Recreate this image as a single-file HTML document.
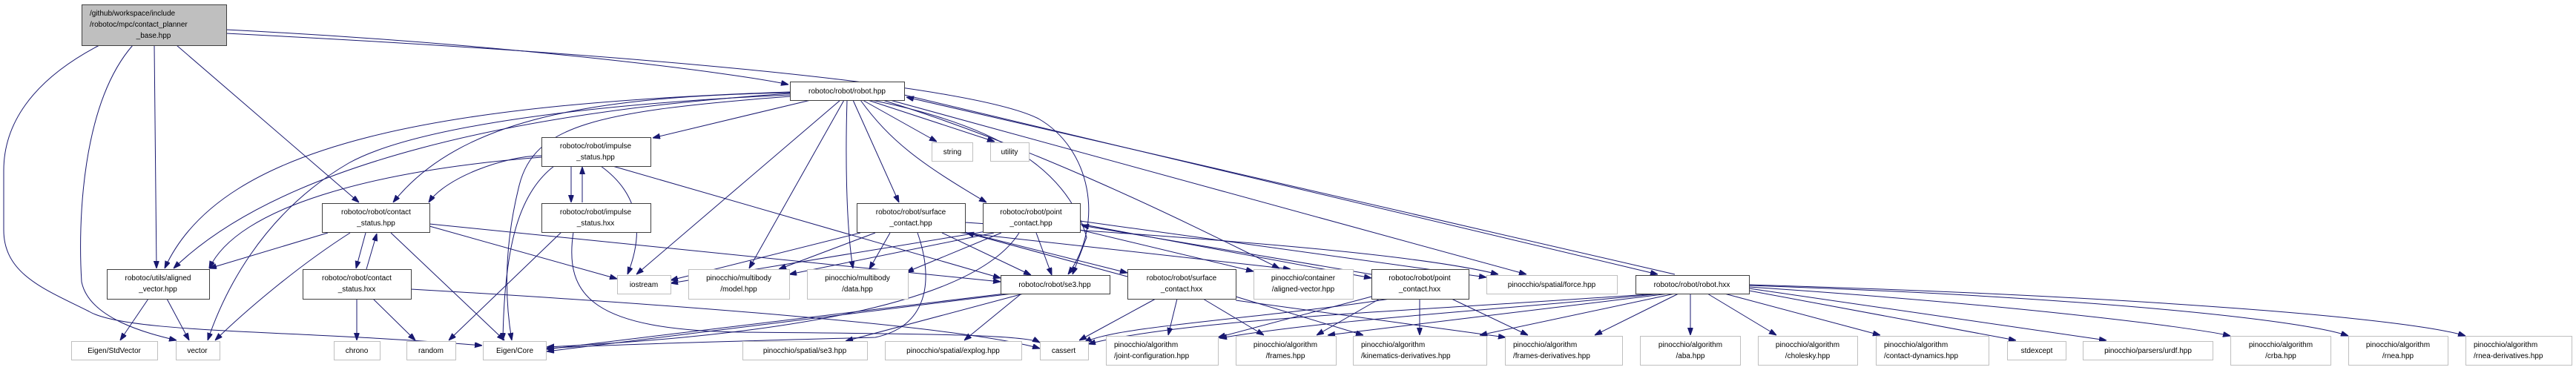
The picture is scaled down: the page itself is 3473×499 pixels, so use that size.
<!DOCTYPE html>
<html><head><meta charset="utf-8">
<style>
html,body{margin:0;padding:0;background:#fff;}
svg{display:block;}
text{font-family:"Liberation Sans",sans-serif;font-size:10px;fill:#000;}
.n{fill:#fff;stroke:#404040;stroke-width:1;}
.l{fill:#fff;stroke:#bfbfbf;stroke-width:1;}
.e{fill:none;stroke:#191970;stroke-width:1;marker-end:url(#a);}
</style></head><body>
<svg width="3473" height="499" viewBox="0 0 3473 499" xmlns="http://www.w3.org/2000/svg">
<defs><marker id="a" markerUnits="userSpaceOnUse" markerWidth="10" markerHeight="8" refX="10" refY="3.5" orient="auto"><path d="M0,0 L10,3.5 L0,7 z" fill="#191970" stroke="#191970"/></marker></defs>
<g>
<!-- root edges -->
<path class="e" d="M305 40 C700 60 1000 100 1063 114"/>
<path class="e" d="M305 45 C800 70 1300 110 1400 160 C1470 200 1490 300 1440 370"/>
<path class="e" d="M238 61 L484 273"/>
<path class="e" d="M208 61 L211 362"/>
<path class="e" d="M179 61 C110 140 105 300 110 380 C120 430 200 450 238 459"/>
<path class="e" d="M134 61 C40 110 5 170 5 230 L5 310 C5 370 60 390 120 420 C170 450 400 445 650 466"/>
<!-- robot.hpp -->
<path class="e" d="M1093 135 L880 186"/>
<path class="e" d="M1065 125 C800 130 620 160 530 273"/>
<path class="e" d="M1065 124 C600 140 300 190 222 362"/>
<path class="e" d="M1065 126 C700 150 380 220 234 362"/>
<path class="e" d="M1065 128 C800 140 560 170 470 220 C350 290 300 400 280 459"/>
<path class="e" d="M1065 130 C800 150 720 170 700 250 C680 330 680 400 690 459"/>
<path class="e" d="M1133 135 L858 370"/>
<path class="e" d="M1138 135 L1010 362"/>
<path class="e" d="M1142 135 C1140 200 1140 300 1150 362"/>
<path class="e" d="M1150 135 L1212 273"/>
<path class="e" d="M1160 135 C1200 190 1240 220 1330 273"/>
<path class="e" d="M1163 135 L1263 191"/>
<path class="e" d="M1170 135 L1341 191"/>
<path class="e" d="M1175 135 C1350 170 1440 230 1465 320 L1446 370"/>
<path class="e" d="M1190 135 C1400 200 1600 300 1725 362"/>
<path class="e" d="M1200 135 L2058 370"/>
<path class="e" d="M1219 128 L2235 370"/>
<path class="e" d="M2258 370 L1222 131"/>
<!-- impulse_status.hpp -->
<path class="e" d="M730 210 C680 210 600 240 578 273"/>
<path class="e" d="M730 212 C500 230 320 280 282 362"/>
<path class="e" d="M770 224 L770 273"/>
<path class="e" d="M785 273 L785 225"/>
<path class="e" d="M747 224 C700 260 680 330 678 459"/>
<path class="e" d="M810 224 C860 260 870 310 846 370"/>
<path class="e" d="M826 224 L1349 375"/>
<!-- impulse_status.hxx -->
<path class="e" d="M757 313 L605 459"/>
<path class="e" d="M773 313 C760 400 800 445 1000 448 C1200 450 1380 450 1402 462"/>
<!-- contact_status.hpp -->
<path class="e" d="M442 314 L282 362"/>
<path class="e" d="M472 314 C400 360 330 420 290 459"/>
<path class="e" d="M493 314 L480 362"/>
<path class="e" d="M494 363 L508 315"/>
<path class="e" d="M527 314 L680 459"/>
<path class="e" d="M579 305 L832 376"/>
<path class="e" d="M579 302 L1349 380"/>
<!-- contact_status.hxx -->
<path class="e" d="M481 403 L481 459"/>
<path class="e" d="M503 403 L560 459"/>
<path class="e" d="M554 390 C900 410 1300 440 1402 470"/>
<!-- aligned_vector -->
<path class="e" d="M200 403 L162 459"/>
<path class="e" d="M225 403 L255 459"/>
<!-- surface_contact.hpp -->
<path class="e" d="M1160 314 L904 378"/>
<path class="e" d="M1180 314 L1050 363"/>
<path class="e" d="M1200 314 L1172 363"/>
<path class="e" d="M1270 314 L1390 371"/>
<path class="e" d="M1280 312 L1740 363"/>
<path class="e" d="M1301 300 C1600 320 1900 340 2020 370"/>
<path class="e" d="M1301 313 L1520 368"/>
<path class="e" d="M1520 373 L1303 314"/>
<path class="e" d="M1237 314 C1260 380 1250 440 1180 455 C1000 460 800 465 737 470"/>
<!-- point_contact.hpp -->
<path class="e" d="M1330 312 L904 382"/>
<path class="e" d="M1340 314 L1064 370"/>
<path class="e" d="M1350 314 L1222 367"/>
<path class="e" d="M1397 314 L1418 371"/>
<path class="e" d="M1374 314 C1320 400 1100 450 737 468"/>
<path class="e" d="M1456 310 L1690 366"/>
<path class="e" d="M1456 298 L2004 374"/>
<path class="e" d="M1456 302 L1849 375"/>
<path class="e" d="M1849 370 L1458 304"/>
<!-- se3.hpp -->
<path class="e" d="M1365 396 L737 474"/>
<path class="e" d="M1355 396 L737 471"/>
<path class="e" d="M1380 396 L1140 460"/>
<path class="e" d="M1377 396 L1300 459"/>
<!-- surface_contact.hxx -->
<path class="e" d="M1558 403 L1455 459"/>
<path class="e" d="M1587 403 L1575 452"/>
<path class="e" d="M1622 403 L1704 452"/>
<path class="e" d="M1666 400 L1838 452"/>
<path class="e" d="M1666 405 L2030 455"/>
<!-- point_contact.hxx -->
<path class="e" d="M1874 403 C1700 430 1500 440 1462 462"/>
<path class="e" d="M1849 400 L1642 455"/>
<path class="e" d="M1860 403 L1775 452"/>
<path class="e" d="M1914 403 L1914 452"/>
<path class="e" d="M1957 403 L2060 452"/>
<!-- robot.hxx -->
<path class="e" d="M2235 396 C1900 420 1600 430 1467 464"/>
<path class="e" d="M2240 396 C2000 420 1800 430 1644 456"/>
<path class="e" d="M2250 396 L1790 452"/>
<path class="e" d="M2258 396 L1995 452"/>
<path class="e" d="M2263 396 L2150 452"/>
<path class="e" d="M2279 396 L2279 452"/>
<path class="e" d="M2302 396 L2395 452"/>
<path class="e" d="M2325 396 L2535 452"/>
<path class="e" d="M2358 392 L2718 459"/>
<path class="e" d="M2358 389 L2840 459"/>
<path class="e" d="M2358 387 C2700 410 2950 440 3007 453"/>
<path class="e" d="M2358 385 C2800 400 3100 430 3166 453"/>
<path class="e" d="M2358 384 C2900 400 3250 430 3324 453"/>
</g>
<!-- nodes -->
<rect x="110.5" y="6.5" width="195" height="55" fill="#bfbfbf" stroke="#404040"/>
<text x="121" y="21">/github/workspace/include</text>
<text x="121" y="36">/robotoc/mpc/contact_planner</text>
<text x="207" y="51" text-anchor="middle">_base.hpp</text>

<rect class="n" x="1065.5" y="110.5" width="154" height="25"/><text x="1142" y="126" text-anchor="middle">robotoc/robot/robot.hpp</text>

<rect class="n" x="730.5" y="185.5" width="147" height="39"/><text x="803" y="200" text-anchor="middle">robotoc/robot/impulse</text><text x="803" y="215" text-anchor="middle">_status.hpp</text>
<rect class="n" x="730.5" y="274.5" width="147" height="39"/><text x="803" y="289" text-anchor="middle">robotoc/robot/impulse</text><text x="803" y="304" text-anchor="middle">_status.hxx</text>
<rect class="n" x="434.5" y="274.5" width="145" height="39"/><text x="507" y="289" text-anchor="middle">robotoc/robot/contact</text><text x="507" y="304" text-anchor="middle">_status.hpp</text>
<rect class="n" x="408.5" y="363.5" width="146" height="40"/><text x="481" y="378" text-anchor="middle">robotoc/robot/contact</text><text x="481" y="393" text-anchor="middle">_status.hxx</text>
<rect class="n" x="144.5" y="363.5" width="138" height="40"/><text x="213" y="378" text-anchor="middle">robotoc/utils/aligned</text><text x="213" y="393" text-anchor="middle">_vector.hpp</text>
<rect class="n" x="1155.5" y="274.5" width="146" height="39"/><text x="1228" y="289" text-anchor="middle">robotoc/robot/surface</text><text x="1228" y="304" text-anchor="middle">_contact.hpp</text>
<rect class="n" x="1325.5" y="274.5" width="131" height="39"/><text x="1390" y="289" text-anchor="middle">robotoc/robot/point</text><text x="1390" y="304" text-anchor="middle">_contact.hpp</text>
<rect class="n" x="1349.5" y="371.5" width="147" height="25"/><text x="1422" y="387" text-anchor="middle">robotoc/robot/se3.hpp</text>
<rect class="n" x="1520.5" y="363.5" width="146" height="40"/><text x="1593" y="378" text-anchor="middle">robotoc/robot/surface</text><text x="1593" y="393" text-anchor="middle">_contact.hxx</text>
<rect class="n" x="1849.5" y="363.5" width="131" height="40"/><text x="1914" y="378" text-anchor="middle">robotoc/robot/point</text><text x="1914" y="393" text-anchor="middle">_contact.hxx</text>
<rect class="n" x="2205.5" y="371.5" width="153" height="25"/><text x="2281" y="387" text-anchor="middle">robotoc/robot/robot.hxx</text>

<rect class="l" x="96.5" y="460.5" width="116" height="25"/><text x="154" y="476" text-anchor="middle">Eigen/StdVector</text>
<rect class="l" x="237.5" y="460.5" width="59" height="25"/><text x="266" y="476" text-anchor="middle">vector</text>
<rect class="l" x="450.5" y="460.5" width="62" height="25"/><text x="481" y="476" text-anchor="middle">chrono</text>
<rect class="l" x="548.5" y="460.5" width="66" height="25"/><text x="581" y="476" text-anchor="middle">random</text>
<rect class="l" x="651.5" y="460.5" width="85" height="25"/><text x="694" y="476" text-anchor="middle">Eigen/Core</text>
<rect class="l" x="832.5" y="371.5" width="72" height="25"/><text x="868" y="387" text-anchor="middle">iostream</text>
<rect class="l" x="928.5" y="363.5" width="136" height="40"/><text x="996" y="378" text-anchor="middle">pinocchio/multibody</text><text x="996" y="393" text-anchor="middle">/model.hpp</text>
<rect class="l" x="1088.5" y="363.5" width="136" height="40"/><text x="1156" y="378" text-anchor="middle">pinocchio/multibody</text><text x="1156" y="393" text-anchor="middle">/data.hpp</text>
<rect class="l" x="1001.5" y="460.5" width="168" height="25"/><text x="1085" y="476" text-anchor="middle">pinocchio/spatial/se3.hpp</text>
<rect class="l" x="1193.5" y="460.5" width="184" height="25"/><text x="1285" y="476" text-anchor="middle">pinocchio/spatial/explog.hpp</text>
<rect class="l" x="1256.5" y="192.5" width="55" height="25"/><text x="1284" y="208" text-anchor="middle">string</text>
<rect class="l" x="1335.5" y="192.5" width="52" height="25"/><text x="1361" y="208" text-anchor="middle">utility</text>
<rect class="l" x="1690.5" y="363.5" width="134" height="40"/><text x="1757" y="378" text-anchor="middle">pinocchio/container</text><text x="1757" y="393" text-anchor="middle">/aligned-vector.hpp</text>
<rect class="l" x="1402.5" y="460.5" width="65" height="25"/><text x="1434" y="476" text-anchor="middle">cassert</text>
<rect class="l" x="1491.5" y="453.5" width="151" height="39"/><text x="1502" y="468">pinocchio/algorithm</text><text x="1502" y="483">/joint-configuration.hpp</text>
<rect class="l" x="1666.5" y="453.5" width="135" height="39"/><text x="1733" y="468" text-anchor="middle">pinocchio/algorithm</text><text x="1733" y="483" text-anchor="middle">/frames.hpp</text>
<rect class="l" x="2004.5" y="371.5" width="176" height="25"/><text x="2092" y="387" text-anchor="middle">pinocchio/spatial/force.hpp</text>
<rect class="l" x="1824.5" y="453.5" width="180" height="39"/><text x="1835" y="468">pinocchio/algorithm</text><text x="1835" y="483">/kinematics-derivatives.hpp</text>
<rect class="l" x="2029.5" y="453.5" width="158" height="39"/><text x="2040" y="468">pinocchio/algorithm</text><text x="2040" y="483">/frames-derivatives.hpp</text>
<rect class="l" x="2211.5" y="453.5" width="135" height="39"/><text x="2279" y="468" text-anchor="middle">pinocchio/algorithm</text><text x="2279" y="483" text-anchor="middle">/aba.hpp</text>
<rect class="l" x="2370.5" y="453.5" width="134" height="39"/><text x="2437" y="468" text-anchor="middle">pinocchio/algorithm</text><text x="2437" y="483" text-anchor="middle">/cholesky.hpp</text>
<rect class="l" x="2529.5" y="453.5" width="152" height="39"/><text x="2540" y="468">pinocchio/algorithm</text><text x="2540" y="483">/contact-dynamics.hpp</text>
<rect class="l" x="2706.5" y="460.5" width="79" height="25"/><text x="2746" y="476" text-anchor="middle">stdexcept</text>
<rect class="l" x="2808.5" y="460.5" width="175" height="25"/><text x="2896" y="476" text-anchor="middle">pinocchio/parsers/urdf.hpp</text>
<rect class="l" x="3007.5" y="453.5" width="135" height="39"/><text x="3075" y="468" text-anchor="middle">pinocchio/algorithm</text><text x="3075" y="483" text-anchor="middle">/crba.hpp</text>
<rect class="l" x="3166.5" y="453.5" width="134" height="39"/><text x="3233" y="468" text-anchor="middle">pinocchio/algorithm</text><text x="3233" y="483" text-anchor="middle">/rnea.hpp</text>
<rect class="l" x="3324.5" y="453.5" width="143" height="39"/><text x="3335" y="468">pinocchio/algorithm</text><text x="3335" y="483">/rnea-derivatives.hpp</text>
</svg>
</body></html>
